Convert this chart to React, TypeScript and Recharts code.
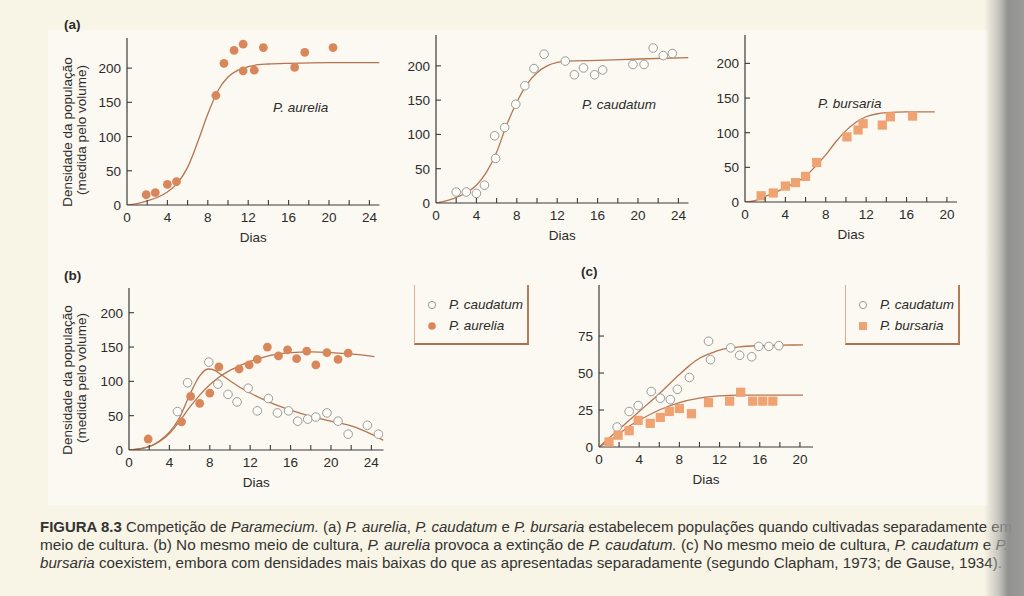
import React from 'react';
import { ComposedChart, Line, Scatter, XAxis, YAxis } from 'recharts';

const FONT = '"Liberation Sans", Arial, Helvetica, sans-serif';
const TEXT = '#2b2b2b';
const AXIS = '#3a3a3a';
const CURVE = '#b5744f';
const DOT = '#d9875a';
const SQUARE = '#efa272';
const OPEN = '#9a9a9a';

// (a) grown separately - P. aurelia
const aAureliaDays = [1.9, 2.8, 4.0, 4.9, 8.8, 9.6, 10.6, 11.5, 11.5, 12.6, 13.5, 16.6, 17.6, 20.4];
const aAureliaValues = [15, 18, 30, 34, 160, 207, 226, 235, 196, 197, 230, 201, 223, 230];
const aAureliaCurveDays = [0, 1, 2, 3, 4, 5, 6, 7, 8, 9, 10, 11, 12, 13, 14, 16, 20, 25];
const aAureliaCurveValues = [0, 2, 6, 11, 19, 32, 55, 92, 133, 167, 187, 197, 202, 205, 206, 207, 208, 208];

// (a) P. caudatum
const aCaudatumDays = [2.0, 3.0, 4.0, 4.8, 5.8, 5.9, 6.8, 7.9, 8.8, 9.7, 10.7, 12.8, 13.7, 14.6, 15.7, 16.5, 19.5, 20.6, 21.5, 22.5, 23.4];
const aCaudatumValues = [16, 16, 14, 26, 98, 65, 110, 144, 171, 196, 217, 207, 187, 197, 187, 194, 202, 202, 226, 215, 218];
const aCaudatumCurveDays = [0, 1, 2, 3, 4, 5, 6, 7, 8, 9, 10, 11, 12, 13, 16, 20, 25];
const aCaudatumCurveValues = [0, 3, 8, 15, 26, 45, 74, 114, 147, 173, 190, 200, 205, 207, 208, 210, 212];

// (a) P. bursaria
const aBursariaDays = [1.6, 2.8, 4.0, 5.0, 6.0, 7.1, 10.1, 11.2, 11.7, 13.6, 14.4, 16.6];
const aBursariaValues = [9, 13, 23, 28, 37, 57, 94, 104, 113, 111, 123, 124];
const aBursariaCurveDays = [0, 1, 2, 3, 4, 5, 6, 7, 8, 9, 10, 11, 12, 13, 14, 16, 18.8];
const aBursariaCurveValues = [0, 2, 8, 14, 21, 28, 37, 52, 68, 87, 103, 115, 123, 127, 129, 130, 130];

// (b) same medium - P. caudatum and P. aurelia
const bCaudatumDays = [4.8, 5.8, 7.9, 8.8, 9.8, 10.7, 11.8, 12.7, 13.8, 14.7, 15.8, 16.7, 17.7, 18.5, 19.6, 20.7, 21.7, 23.6, 24.7];
const bCaudatumValues = [56, 98, 128, 96, 81, 70, 90, 57, 75, 54, 57, 42, 45, 48, 54, 42, 23, 36, 23];
const bAureliaDays = [1.9, 5.2, 6.1, 7.0, 8.0, 8.9, 10.9, 11.9, 12.7, 13.7, 14.8, 15.7, 16.6, 17.6, 18.5, 19.6, 20.7, 21.7];
const bAureliaValues = [16, 41, 78, 68, 83, 121, 118, 124, 132, 150, 137, 146, 133, 144, 124, 142, 132, 141];
const bCaudatumCurveDays = [0, 2, 3, 4, 5, 6, 7, 7.8, 8.5, 9, 10, 11, 12, 14, 16, 18, 20, 22, 24, 25.2];
const bCaudatumCurveValues = [0, 5, 13, 26, 47, 80, 108, 118, 116, 111, 101, 91, 83, 69, 58, 49, 42, 35, 23, 14];
const bAureliaCurveDays = [0, 2, 3, 4, 5, 6, 7, 8, 9, 10, 11, 12, 13, 14, 16, 18, 20, 22, 24.3];
const bAureliaCurveValues = [0, 5, 12, 24, 42, 62, 80, 95, 107, 116, 123, 129, 134, 138, 142, 143, 142, 140, 136];

// (c) same medium - P. caudatum and P. bursaria
const cCaudatumDays = [1.8, 3.0, 3.9, 5.2, 6.1, 7.1, 7.8, 9.0, 10.9, 11.1, 13.1, 14.0, 15.2, 15.9, 16.9, 17.9];
const cCaudatumValues = [13.5, 24, 28, 37.5, 33, 32, 39, 47, 71.5, 59, 67, 62, 61, 68, 68, 68.5];
const cBursariaDays = [1.0, 1.9, 3.0, 3.9, 5.1, 6.1, 7.0, 8.0, 9.2, 10.9, 13.0, 14.1, 15.3, 16.3, 17.3];
const cBursariaValues = [3.4, 8, 11, 18, 16, 20, 24, 26, 22.5, 30, 31, 37, 31, 31, 31];
const cCaudatumCurveDays = [0, 1, 2, 4, 6, 8, 9, 10, 11, 12, 13, 14, 16, 18, 20.3];
const cCaudatumCurveValues = [0, 6, 12, 24, 36, 49, 55, 60, 63, 65.5, 66.8, 67.7, 68.5, 68.8, 69];
const cBursariaCurveDays = [0, 1, 2, 3, 4, 6, 8, 10, 12, 14, 16, 20.3];
const cBursariaCurveValues = [0, 4, 9, 14, 18, 25, 30, 33, 34.5, 35, 35, 35];

const xTicks24 = [0, 2, 4, 6, 8, 10, 12, 14, 16, 18, 20, 22, 24];
const xTicks20 = [0, 2, 4, 6, 8, 10, 12, 14, 16, 18, 20];
const yTicks200 = [0, 50, 100, 150, 200];
const yTicks75 = [0, 25, 50, 75];

const zip = (xs: number[], ys: number[]) => xs.map((x, i) => ({ x, y: ys[i] }));

const filledDot = (p: any) => <circle cx={p.cx} cy={p.cy} r={4.4} fill={DOT} />;
const openDot = (p: any) => <circle cx={p.cx} cy={p.cy} r={4.3} fill="#fdfcf6" stroke={OPEN} strokeWidth={1} />;
const square = (p: any) => <rect x={p.cx - 4.6} y={p.cy - 4.6} width={9.2} height={9.2} fill={SQUARE} />;

function XTick(props: any) {
  const { x, y, payload } = props;
  const v = payload.value;
  return (
    <g>
      {v !== 0 && <line x1={x} y1={y} x2={x} y2={y - 5} stroke={AXIS} strokeWidth={1.1} />}
      {v % 4 === 0 && (
        <text x={x} y={y + 17} textAnchor="middle" fontSize={13.5} fontFamily={FONT} fill={TEXT}>
          {v}
        </text>
      )}
    </g>
  );
}

function YTick(props: any) {
  const { x, y, payload } = props;
  return (
    <g>
      {payload.value !== 0 && <line x1={x} y1={y} x2={x + 5} y2={y} stroke={AXIS} strokeWidth={1.1} />}
      <text x={x - 6} y={y + 5} textAnchor="end" fontSize={13.5} fontFamily={FONT} fill={TEXT}>
        {payload.value}
      </text>
    </g>
  );
}

interface PanelProps {
  left: number;
  top: number;
  width: number;
  height: number;
  xMax: number;
  yMax: number;
  xTicks: number[];
  yTicks: number[];
  curves: Array<Array<{ x: number; y: number }>>;
  scatters: Array<{ data: Array<{ x: number; y: number }>; shape: any }>;
}

function Panel({ left, top, width, height, xMax, yMax, xTicks, yTicks, curves, scatters }: PanelProps) {
  const ml = 50;
  const mt = 6;
  const mb = 40;
  const mr = 8;
  return (
    <div style={{ position: 'absolute', left: left - ml, top: top - mt }}>
      <ComposedChart
        width={width + ml + mr}
        height={height + mt + mb}
        margin={{ top: mt, right: mr, left: 0, bottom: 0 }}
      >
        <XAxis
          dataKey="x"
          type="number"
          domain={[0, xMax]}
          ticks={xTicks}
          interval={0}
          allowDataOverflow
          tick={<XTick />}
          tickSize={0}
          tickMargin={0}
          height={mb}
          stroke={AXIS}
          strokeWidth={1.2}
          label={{ value: 'Dias', position: 'insideBottom', offset: 3, fontSize: 13.5, fill: TEXT, fontFamily: FONT }}
        />
        <YAxis
          type="number"
          domain={[0, yMax]}
          ticks={yTicks}
          interval={0}
          allowDataOverflow
          tick={<YTick />}
          tickSize={0}
          tickMargin={0}
          width={ml}
          stroke={AXIS}
          strokeWidth={1.2}
        />
        {curves.map((c, i) => (
          <Line
            key={'c' + i}
            data={c}
            dataKey="y"
            type="monotone"
            dot={false}
            stroke={CURVE}
            strokeWidth={1.3}
            isAnimationActive={false}
          />
        ))}
        {scatters.map((s, i) => (
          <Scatter key={'s' + i} data={s.data} dataKey="y" shape={s.shape} isAnimationActive={false} />
        ))}
      </ComposedChart>
    </div>
  );
}

function YLabel({ x, y }: { x: number; y: number }) {
  return (
    <g fontSize={13.5} fontFamily={FONT} fill={TEXT} textAnchor="middle">
      <text transform={`translate(${x},${y}) rotate(-90)`}>Densidade da população</text>
      <text transform={`translate(${x + 14},${y - 2}) rotate(-90)`}>(medida pelo volume)</text>
    </g>
  );
}

function LegendBox({ left, top, items }: { left: number; top: number; items: Array<{ label: string; kind: string }> }) {
  return (
    <div
      style={{
        position: 'absolute',
        left,
        top,
        width: 115,
        height: 60,
        borderLeft: '1px solid #dcae90',
        borderRight: '2px solid #b57a58',
        borderBottom: '2px solid #a8704f',
        boxSizing: 'border-box',
        paddingTop: 9,
      }}
    >
      {items.map((it) => (
        <div key={it.label} style={{ display: 'flex', alignItems: 'center', height: 21, fontFamily: FONT, fontSize: 13.5, fontStyle: 'italic', color: TEXT }}>
          <svg width={26} height={12} style={{ flex: 'none', marginLeft: 8 }}>
            {it.kind === 'open' && <circle cx={9} cy={6} r={3.6} fill="#fdfcf6" stroke={OPEN} strokeWidth={1} />}
            {it.kind === 'filled' && <circle cx={9} cy={6} r={3.8} fill={DOT} />}
            {it.kind === 'square' && <rect x={5} y={2} width={8} height={8} fill={SQUARE} />}
          </svg>
          <span>{it.label}</span>
        </div>
      ))}
    </div>
  );
}

export default function App() {
  return (
    <div style={{ position: 'fixed', left: 0, top: 0, width: 1024, height: 596, background: '#f8f5e6', overflow: 'hidden' }}>
      <div style={{ position: 'absolute', left: 48, top: 30, width: 940, height: 475, background: '#fbf9f1' }} />

      <Panel
        left={127}
        top={38}
        width={252.5}
        height={167}
        xMax={25}
        yMax={244}
        xTicks={xTicks24}
        yTicks={yTicks200}
        curves={[zip(aAureliaCurveDays, aAureliaCurveValues)]}
        scatters={[{ data: zip(aAureliaDays, aAureliaValues), shape: filledDot }]}
      />
      <Panel
        left={436}
        top={35}
        width={252.5}
        height={168}
        xMax={25}
        yMax={245}
        xTicks={xTicks24}
        yTicks={yTicks200}
        curves={[zip(aCaudatumCurveDays, aCaudatumCurveValues)]}
        scatters={[{ data: zip(aCaudatumDays, aCaudatumValues), shape: openDot }]}
      />
      <Panel
        left={745}
        top={35}
        width={212}
        height={167}
        xMax={21}
        yMax={241}
        xTicks={xTicks20}
        yTicks={yTicks200}
        curves={[zip(aBursariaCurveDays, aBursariaCurveValues)]}
        scatters={[{ data: zip(aBursariaDays, aBursariaValues), shape: square }]}
      />
      <Panel
        left={129}
        top={288}
        width={254.5}
        height={162}
        xMax={25.2}
        yMax={236}
        xTicks={xTicks24}
        yTicks={yTicks200}
        curves={[zip(bCaudatumCurveDays, bCaudatumCurveValues), zip(bAureliaCurveDays, bAureliaCurveValues)]}
        scatters={[
          { data: zip(bCaudatumDays, bCaudatumValues), shape: openDot },
          { data: zip(bAureliaDays, bAureliaValues), shape: filledDot },
        ]}
      />
      <Panel
        left={599}
        top={285}
        width={214}
        height={162}
        xMax={21.3}
        yMax={109.5}
        xTicks={xTicks20}
        yTicks={yTicks75}
        curves={[zip(cCaudatumCurveDays, cCaudatumCurveValues), zip(cBursariaCurveDays, cBursariaCurveValues)]}
        scatters={[
          { data: zip(cCaudatumDays, cCaudatumValues), shape: openDot },
          { data: zip(cBursariaDays, cBursariaValues), shape: square },
        ]}
      />

      <LegendBox
        left={414}
        top={285}
        items={[
          { label: 'P. caudatum', kind: 'open' },
          { label: 'P. aurelia', kind: 'filled' },
        ]}
      />
      <LegendBox
        left={845}
        top={285}
        items={[
          { label: 'P. caudatum', kind: 'open' },
          { label: 'P. bursaria', kind: 'square' },
        ]}
      />

      <svg width={1024} height={596} style={{ position: 'absolute', left: 0, top: 0, pointerEvents: 'none' }}>
        <g fontFamily={FONT} fill={TEXT}>
          <text x={64} y={29} fontSize={13.5} fontWeight="bold">(a)</text>
          <text x={64} y={280} fontSize={13.5} fontWeight="bold">(b)</text>
          <text x={581} y={276} fontSize={13.5} fontWeight="bold">(c)</text>
          <text x={273} y={112} fontSize={13.5} fontStyle="italic">P. aurelia</text>
          <text x={582} y={109} fontSize={13.5} fontStyle="italic">P. caudatum</text>
          <text x={818} y={108} fontSize={13.5} fontStyle="italic">P. bursaria</text>
        </g>
        <YLabel x={72} y={132} />
        <YLabel x={72} y={380} />
        <g fontFamily={FONT} fill="#333" fontSize={14}>
          <text x={40} y={532} textLength={972} lengthAdjust="spacingAndGlyphs">
            <tspan fontWeight="bold">FIGURA 8.3</tspan>
            {' Competição de '}
            <tspan fontStyle="italic">Paramecium.</tspan>
            {' (a) '}
            <tspan fontStyle="italic">P. aurelia</tspan>
            {', '}
            <tspan fontStyle="italic">P. caudatum</tspan>
            {' e '}
            <tspan fontStyle="italic">P. bursaria</tspan>
            {' estabelecem populações quando cultivadas separadamente em'}
          </text>
          <text x={40} y={550} textLength={968} lengthAdjust="spacingAndGlyphs">
            {'meio de cultura. (b) No mesmo meio de cultura, '}
            <tspan fontStyle="italic">P. aurelia</tspan>
            {' provoca a extinção de '}
            <tspan fontStyle="italic">P. caudatum.</tspan>
            {' (c) No mesmo meio de cultura, '}
            <tspan fontStyle="italic">P. caudatum</tspan>
            {' e '}
            <tspan fontStyle="italic">P.</tspan>
          </text>
          <text x={40} y={568} textLength={962} lengthAdjust="spacingAndGlyphs">
            <tspan fontStyle="italic">bursaria</tspan>
            {' coexistem, embora com densidades mais baixas do que as apresentadas separadamente (segundo Clapham, 1973; de Gause, 1934).'}
          </text>
        </g>
      </svg>

      <div
        style={{
          position: 'absolute',
          left: 984,
          top: 0,
          width: 40,
          height: 596,
          background: 'linear-gradient(to right, rgba(200,200,195,0) 0%, rgba(170,170,168,0.6) 35%, rgba(140,140,140,0.95) 60%, rgba(150,150,150,0.95) 100%)',
        }}
      />
    </div>
  );
}
